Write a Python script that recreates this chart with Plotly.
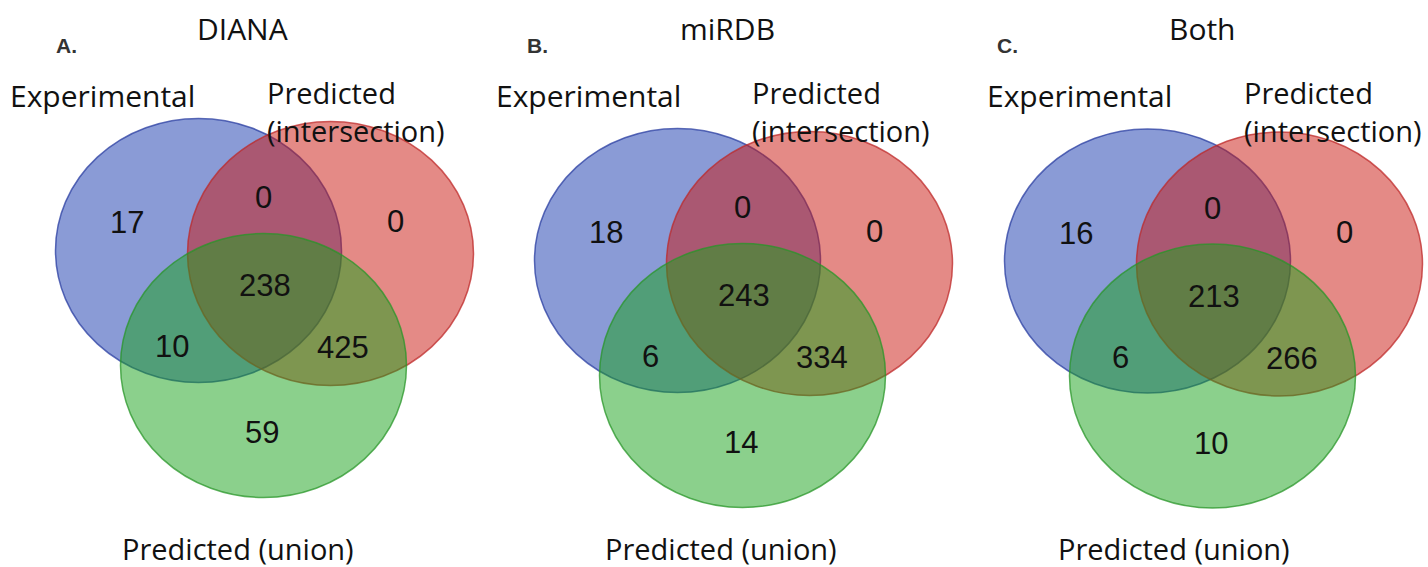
import plotly.graph_objects as go

# ---- data -------------------------------------------------------------
panel_titles = ["DIANA", "miRDB", "Both"]
panel_letters = ["A.", "B.", "C."]
set_names = ["Experimental", "Predicted<br>(intersection)", "Predicted (union)"]

# region counts in order:
# exp only, exp&inter, inter only, all three, exp&union, inter&union, union only
region_keys = ["exp", "exp_int", "int", "all", "exp_uni", "int_uni", "uni"]
diana_counts = [17, 0, 0, 238, 10, 425, 59]
mirdb_counts = [18, 0, 0, 243, 6, 334, 14]
both_counts = [16, 0, 0, 213, 6, 266, 10]
panel_counts = [diana_counts, mirdb_counts, both_counts]

# ---- layout (pixel space) --------------------------------------------
W, H = 1428, 567
panel_anchor = [(198.5, 250.5), (677.5, 260.5), (1147.5, 261.0)]  # centre of "Experimental" set
RX, RY = 143, 132
circle_offsets = [(0, 0), (132, 3), (65, 115)]
fill_colors = ["rgba(21,55,173,0.5)", "rgba(201,21,13,0.5)", "rgba(23,161,25,0.5)"]
line_colors = ["rgba(40,60,160,0.75)", "rgba(190,40,40,0.75)", "rgba(40,150,40,0.75)"]
count_offsets = {
    "exp": (-72, -28), "exp_int": (65, -53), "int": (197, -29), "all": (66, 35),
    "exp_uni": (-27, 96), "int_uni": (144, 97), "uni": (63, 182),
}
title_x = [242, 727, 1202]
letter_x = [66, 537, 1007]
exp_label_x = [9, 495, 986]
pred_label_x = [266, 751, 1243]
union_label_x = [238, 721, 1174]

LABEL_FONT = "Open Sans, sans-serif"
NUM_FONT = "Liberation Sans, Arial, sans-serif"
LABEL_SIZE = 29

fig = go.Figure()
shapes, annotations = [], []


def add_text(x, y, text, family, size, color="#111111", xanchor="center"):
    annotations.append(dict(
        x=x, y=y, xref="x", yref="y", text=text, showarrow=False,
        font=dict(family=family, size=size, color=color),
        xanchor=xanchor, yanchor="middle", align="left", borderpad=0,
    ))


for p in range(3):
    ax, ay = panel_anchor[p]
    for c in range(3):
        cx, cy = ax + circle_offsets[c][0], ay + circle_offsets[c][1]
        shapes.append(dict(
            type="circle", xref="x", yref="y",
            x0=cx - RX, x1=cx + RX, y0=cy - RY, y1=cy + RY,
            fillcolor=fill_colors[c], line=dict(color=line_colors[c], width=1.5),
            layer="below",
        ))
    for key, val in zip(region_keys, panel_counts[p]):
        dx, dy = count_offsets[key]
        add_text(ax + dx, ay + dy, str(val), NUM_FONT, 31)

    add_text(title_x[p], 28, panel_titles[p], LABEL_FONT, 30)
    add_text(letter_x[p], 45, "<b>" + panel_letters[p] + "</b>", NUM_FONT, 21, color="#333333")
    add_text(exp_label_x[p], 95, set_names[0], LABEL_FONT, 30, xanchor="left")
    add_text(pred_label_x[p], 111, set_names[1], LABEL_FONT, LABEL_SIZE, xanchor="left")
    add_text(union_label_x[p], 548, set_names[2], LABEL_FONT, LABEL_SIZE)

fig.update_layout(
    width=W, height=H, margin=dict(l=0, r=0, t=0, b=0),
    paper_bgcolor="white", plot_bgcolor="white",
    xaxis=dict(range=[0, W], visible=False, fixedrange=True),
    yaxis=dict(range=[H, 0], visible=False, fixedrange=True),
    shapes=shapes, annotations=annotations, showlegend=False,
)
fig.write_html("out.html")
